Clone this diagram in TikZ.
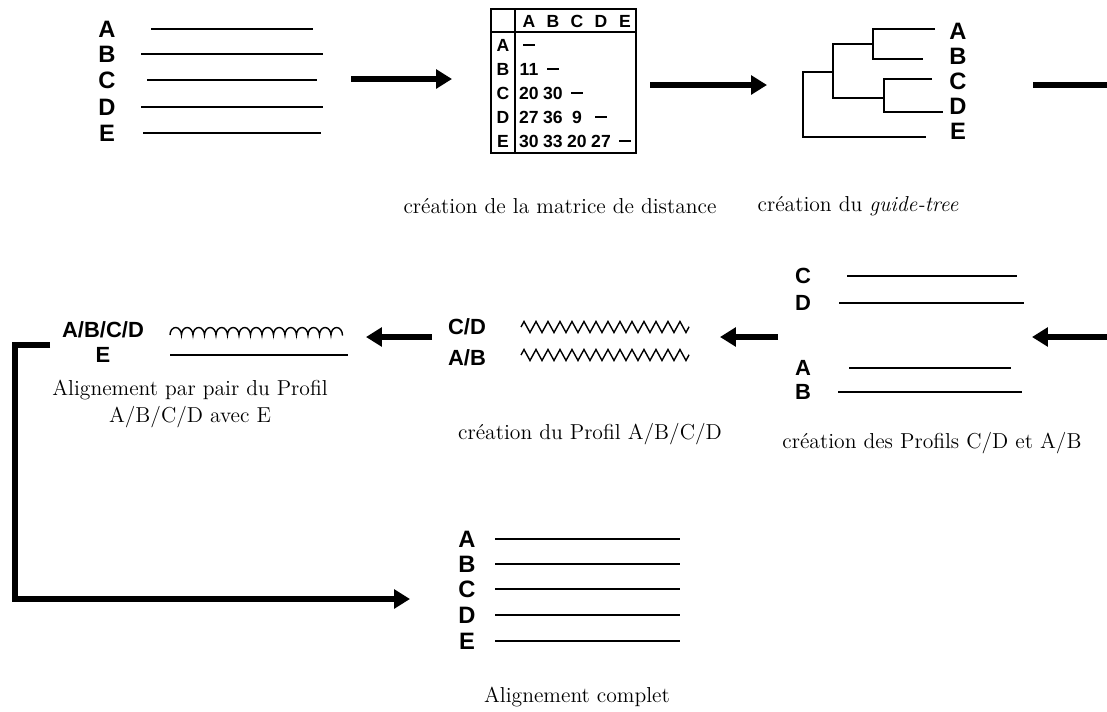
\documentclass[tikz,border=0pt]{standalone}
\usepackage{fontspec}
\setsansfont{Liberation Sans}
\usetikzlibrary{arrows.meta,decorations.pathmorphing}

\newcommand{\nodist}{\rule[2.8pt]{6.5pt}{1.3pt}}

\tikzset{
  seqlabel/.style={font=\sffamily\bfseries\fontsize{13.5}{15}\selectfont, inner sep=0pt},
  proflabel/.style={font=\sffamily\bfseries\fontsize{12.5}{14}\selectfont, inner sep=0pt},
  cell/.style={font=\sffamily\bfseries\fontsize{10}{11}\selectfont, inner sep=0pt,
               text height=7.2pt, text depth=0pt},
  seqline/.style={line width=1.1pt},
  flow/.style={line width=3pt, -{Triangle[length=9pt,width=10.5pt]}},
  legend/.style={font=\fontsize{12.3}{15}\selectfont, align=center, inner sep=0pt},
}

\begin{document}
\begin{tikzpicture}[x=0.02cm, y=-0.02cm]
    \useasboundingbox (0,0) rectangle (1107,711);

    % Sequences de depart
    \foreach \n/\y/\a/\b in {A/29/151/313, B/54/141/323, C/80/147/317, D/107/141/323, E/133/143/321}{
        \node[seqlabel] (in\n) at (107,\y) {\n};
        \draw[seqline] (\a,\y) -- (\b,\y);
    }

    % Matrice de distance
    \draw[line width=1pt] (491,9) rectangle (636,153);
    \draw[line width=1pt] (491,32) -- (636,32) (515,9) -- (515,153);
    \foreach \n [count=\c] in {A,B,C,D,E}
        \node[cell] (col\n) at (505+24*\c,21) {\n};
    \foreach \n/\y/\vals in {A/45/{\nodist}, B/69/{11,\nodist}, C/93/{20,30,\nodist},
                             D/117/{27,36,9,\nodist}, E/141/{30,33,20,27,\nodist}}{
        \node[cell] (row\n) at (503,\y) {\n};
        \foreach \v [count=\c] in \vals
            \node[cell] (m\n\c) at (505+24*\c,\y) {\v};
    }

    % Guide-tree
    \draw[seqline] (935,29) -- (873,29) -- (873,59) -- (923,59);
    \draw[seqline] (932,79) -- (884,79) -- (884,112) -- (943,112);
    \draw[seqline] (873,44) -- (833,44) -- (833,98) -- (884,98);
    \draw[seqline] (833,72) -- (803,72) -- (803,137) -- (926,137);
    \foreach \n/\y in {A/31,B/56,C/81,D/106,E/131}
        \node[seqlabel] (tr\n) at (958,\y) {\n};

    % Fleches du haut
    \coordinate (f1a) at (351,79);  \coordinate (f1b) at (452,79);
    \coordinate (f2a) at (650,85);  \coordinate (f2b) at (767,85);
    \coordinate (f3a) at (1033,85); \coordinate (f3b) at (1107,85);
    \draw[flow] (f1a) -- (f1b);
    \draw[flow] (f2a) -- (f2b);
    \draw[line width=3pt] (f3a) -- (f3b);

    \node[legend] (capMat) at (560,206) {création de la matrice de distance};
    \node[legend] (capTree) at (858,206) {création du \textit{guide-tree}};

    % Profils C/D et A/B
    \foreach \n/\y/\a/\b in {C/276/847/1017, D/303/839/1024, A/368/849/1011, B/392/838/1022}{
        \node[proflabel] (pr\n) at (803,\y) {\n};
        \draw[seqline] (\a,\y) -- (\b,\y);
    }
    \coordinate (f4a) at (1107,337); \coordinate (f4b) at (1032,337);
    \draw[flow] (f4a) -- (f4b);
    \node[legend] (capPair) at (932,443) {création des Profils C/D et A/B};

    % Profil A/B/C/D
    \node[proflabel] (mCD) at (467,327) {C/D};
    \node[proflabel] (mAB) at (467,358) {A/B};
    \foreach \y in {327,355}
        \draw[line width=0.8pt, decorate, decoration={zigzag, segment length=0.24cm, amplitude=0.11cm}]
            (521,\y) -- (689,\y);
    \coordinate (f5a) at (778,337); \coordinate (f5b) at (720,337);
    \draw[flow] (f5a) -- (f5b);
    \node[legend] (capProf) at (590,434) {création du Profil A/B/C/D};

    % Alignement du profil avec E
    \node[proflabel] (lABCD) at (103,330) {A/B/C/D};
    \node[proflabel] (lE) at (103,355) {E};
    \draw[line width=0.8pt, decorate, decoration={bumps, segment length=0.46cm, amplitude=0.15cm}]
        (170,335) -- (343,335);
    \draw[seqline] (170,355) -- (348,355);
    \coordinate (f6a) at (432,337); \coordinate (f6b) at (366,337);
    \draw[flow] (f6a) -- (f6b);
    \node[legend] (capAlign) at (190,404) {Alignement par pair du Profil\\A/B/C/D avec E};

    % Alignement complet
    \foreach \n/\y in {A/539,B/564,C/589,D/615,E/641}{
        \node[seqlabel] (fin\n) at (467,\y) {\n};
        \draw[seqline] (495,\y) -- (680,\y);
    }
    \node[legend] (capFin) at (577,697) {Alignement complet};

    \coordinate (jStart) at (50,345);
    \coordinate (jEnd) at (410,599);
    \draw[flow] (jStart) -- (15,345) |- (jEnd);
\end{tikzpicture}
\end{document}
